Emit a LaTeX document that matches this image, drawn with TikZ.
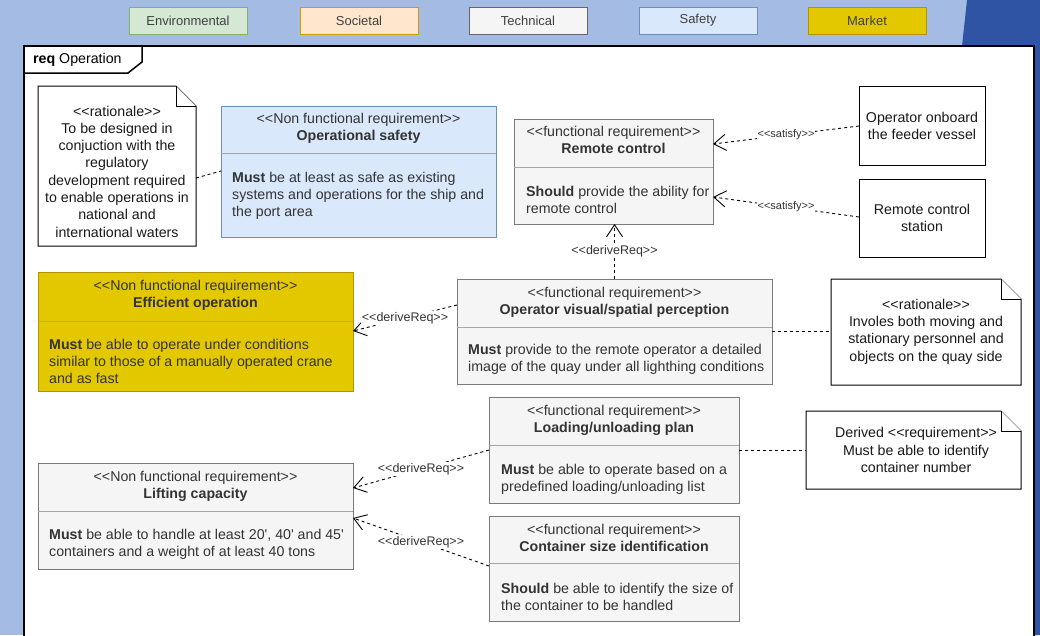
\documentclass[tikz,border=0pt]{standalone}
\usepackage{fontspec}
\newfontfamily\uifont{Liberation Sans}
\usetikzlibrary{arrows.meta,calc}

\definecolor{bgblue}{HTML}{A4BCE3}
\definecolor{darkblue}{HTML}{2F54A3}
\definecolor{envfill}{HTML}{D5E8D4}\definecolor{envline}{HTML}{82B366}
\definecolor{socfill}{HTML}{FFE6CC}\definecolor{socline}{HTML}{D79B00}
\definecolor{techfill}{HTML}{F5F5F5}\definecolor{techline}{HTML}{7A7A7A}
\definecolor{safefill}{HTML}{DAE8FC}\definecolor{safeline}{HTML}{6C8EBF}
\definecolor{mktfill}{HTML}{E3C800}\definecolor{mktline}{HTML}{B09500}
\definecolor{txt}{HTML}{333333}

% requirement block: name, style, x1, y1, x2, y2, divider y
\newcommand\reqbox[7]{%
  \node[boxbase,#2,minimum width={#5-#3},minimum height={#6-#4}] (#1) at (#3,#4) {};
  \draw[divline] (#3,#7) -- (#5,#7);
}
% note with folded corner: name, x1, y1, x2, y2
\newcommand\notebox[5]{%
  \node[boxbase,minimum width={#4-#2},minimum height={#5-#3}] (#1) at (#2,#3) {};
  \draw[noteline] (#1.north west) -- ([xshift=-20pt]#1.north east) -- ([yshift=-20pt]#1.north east)
    -- (#1.south east) -- (#1.south west) -- cycle;
  \draw[noteline] ([xshift=-20pt]#1.north east) -- ([xshift=-20pt,yshift=-20pt]#1.north east)
    -- ([yshift=-20pt]#1.north east);
}

\begin{document}
\begin{tikzpicture}[x=1pt,y=-1pt,
  every node/.style={font=\uifont\fontsize{14.2}{17}\selectfont,text=txt},
  boxbase/.style={inner sep=0pt,outer sep=0pt,anchor=north west,line width=1pt},
  techbox/.style={fill=techfill,draw=techline},
  safebox/.style={fill=safefill,draw=safeline},
  mktbox/.style={fill=mktfill,draw=mktline},
  plainbox/.style={fill=white,draw=black,text=black!90,align=center},
  divline/.style={draw=black!35,line width=1pt},
  hdr/.style={align=center,inner sep=0pt},
  bodytext/.style={align=left,anchor=west,inner sep=0pt},
  notetext/.style={align=center,inner sep=0pt,text=black!90,
    font=\uifont\fontsize{14.2}{17.3}\selectfont},
  noteline/.style={draw=black,line width=1pt,fill=white},
  legendbox/.style={boxbase,minimum width=118pt,minimum height=27pt,
    font=\uifont\fontsize{13}{15}\selectfont,text=black!75},
  link/.style={draw=black,line width=0.9pt,dash pattern=on 3pt off 3pt},
  dep/.style={link,-{Straight Barb[length=12pt,width=16pt]}},
  lbl/.style={fill=white,inner sep=1pt,font=\uifont\fontsize{12.5}{14}\selectfont,text=txt},
  slbl/.style={lbl,font=\uifont\fontsize{11}{13}\selectfont},
]
\useasboundingbox (0,0) rectangle (1040,635);
\clip (0,0) rectangle (1040,635);

% backdrop
\fill[bgblue] (0,0) rectangle (1040,635);
\fill[darkblue] (967,0) -- (1040,0) -- (1040,635) -- (898,635) -- cycle;

% legend
\node[legendbox,fill=envfill,draw=envline] (lg-env) at (129,7) {Environmental};
\node[legendbox,fill=socfill,draw=socline] (lg-soc) at (300,7) {Societal};
\node[legendbox,fill=techfill,draw=black!60] (lg-tech) at (469,7) {Technical};
\node[legendbox,fill=safefill,draw=safeline] (lg-safe) at (639,7) {Safety};
\node[legendbox,fill=mktfill,draw=mktline] (lg-mkt) at (808,7) {Market};

% diagram frame
\node[boxbase,draw=black,fill=white,line width=2pt,minimum width=1010,minimum height=640] (frame) at (24,46) {};
\draw[line width=1.5pt] (frame.north west) -- ++(118,0) -- ++(0,16) -- ++(-14,11) -- (frame.west |- 0,73);
\node[anchor=west,inner sep=0pt,text=black] (frame-title) at (33,60) {\textbf{req} Operation};

% requirements
\reqbox{opsafe}{safebox}{221}{106}{496}{237}{153}
\node[hdr] (opsafe-head) at (358.5,128) {<<Non functional requirement>>\\\textbf{Operational safety}};
\node[bodytext] (opsafe-body) at (232,195.5) {\textbf{Must} be at least as safe as existing\\systems and operations for the ship and\\the port area};

\reqbox{rc}{techbox}{514}{119}{713}{224}{167}
\node[hdr] (rc-head) at (613.5,140) {<<functional requirement>>\\\textbf{Remote control}};
\node[bodytext] (rc-body) at (526,200) {\textbf{Should} provide the ability for\\remote control};

\reqbox{eff}{mktbox}{38}{272}{353}{391}{321}
\node[hdr] (eff-head) at (195.5,295) {<<Non functional requirement>>\\\textbf{Efficient operation}};
\node[bodytext] (eff-body) at (49,361.5) {\textbf{Must} be able to operate under conditions\\similar to those of a manually operated crane\\and as fast};

\reqbox{perc}{techbox}{457}{279}{772}{384}{327}
\node[hdr] (perc-head) at (614.5,302.5) {<<functional requirement>>\\\textbf{Operator visual/spatial perception}};
\node[bodytext] (perc-body) at (468,359.5) {\textbf{Must} provide to the remote operator a detailed\\image of the quay under all lighthing conditions};

\reqbox{load}{techbox}{489}{397}{739}{503}{445}
\node[hdr] (load-head) at (614,420.5) {<<functional requirement>>\\\textbf{Loading/unloading plan}};
\node[bodytext] (load-body) at (501,479) {\textbf{Must} be able to operate based on a\\predefined loading/unloading list};

\reqbox{lift}{techbox}{38}{463}{353}{569}{511}
\node[hdr] (lift-head) at (195.5,486.5) {<<Non functional requirement>>\\\textbf{Lifting capacity}};
\node[bodytext] (lift-body) at (49,544) {\textbf{Must} be able to handle at least 20', 40' and 45'\\containers and a weight of at least 40 tons};

\reqbox{csize}{techbox}{489}{516}{739}{621}{563}
\node[hdr] (csize-head) at (614,538) {<<functional requirement>>\\\textbf{Container size identification}};
\node[bodytext] (csize-body) at (501,596.5) {\textbf{Should} be able to identify the size of\\the container to be handled};

% rationale notes
\notebox{rat1}{38}{86}{196}{246}
\node[notetext] (rat1-text) at (117,171.5) {<<rationale>>\\To be designed in\\conjuction with the\\regulatory\\development required\\to enable operations in\\national and\\international waters};

\notebox{rat2}{831}{279}{1021}{385}
\node[notetext] (rat2-text) at (926,331.5) {<<rationale>>\\Involes both moving and\\stationary personnel and\\objects on the quay side};

\notebox{derived}{806}{411}{1021}{489}
\node[notetext] (derived-text) at (916,450) {Derived <<requirement>>\\Must be able to identify\\container number};

% actors
\node[boxbase,plainbox,minimum width=126,minimum height=79] (onboard) at (859,86) {Operator onboard\\the feeder vessel};
\node[boxbase,plainbox,minimum width=126,minimum height=78] (station) at (859,179) {Remote control\\station};

% connectors
\draw[link] ([yshift=-92pt]rat1.north east) -- ([yshift=-65pt]opsafe.north west);
\draw[dep] ([yshift=-40pt]onboard.north west) -- node[slbl] (sat1) {<<satisfy>>} ([yshift=-25pt]rc.north east);
\draw[dep] ([yshift=-38pt]station.north west) -- node[slbl] (sat2) {<<satisfy>>} ([yshift=-78pt]rc.north east);
\draw[dep] (perc.north) -- node[lbl] (der1) {<<deriveReq>>} (perc.north |- rc.south);
\draw[dep] ([yshift=-26pt]perc.north west) -- node[lbl] (der2) {<<deriveReq>>} ([yshift=-59pt]eff.north east);
\coordinate (pe) at ([yshift=-52pt]perc.north east);
\draw[link] (pe) -- (pe -| rat2.west);
\coordinate (le) at ([yshift=-53pt]load.north east);
\draw[link] (le) -- (le -| derived.west);
\draw[dep] ([yshift=-53pt]load.north west) -- node[lbl] (der3) {<<deriveReq>>} ([yshift=-25pt]lift.north east);
\draw[dep] ([yshift=-50pt]csize.north west) -- node[lbl] (der4) {<<deriveReq>>} ([yshift=-55pt]lift.north east);
\end{tikzpicture}
\end{document}
